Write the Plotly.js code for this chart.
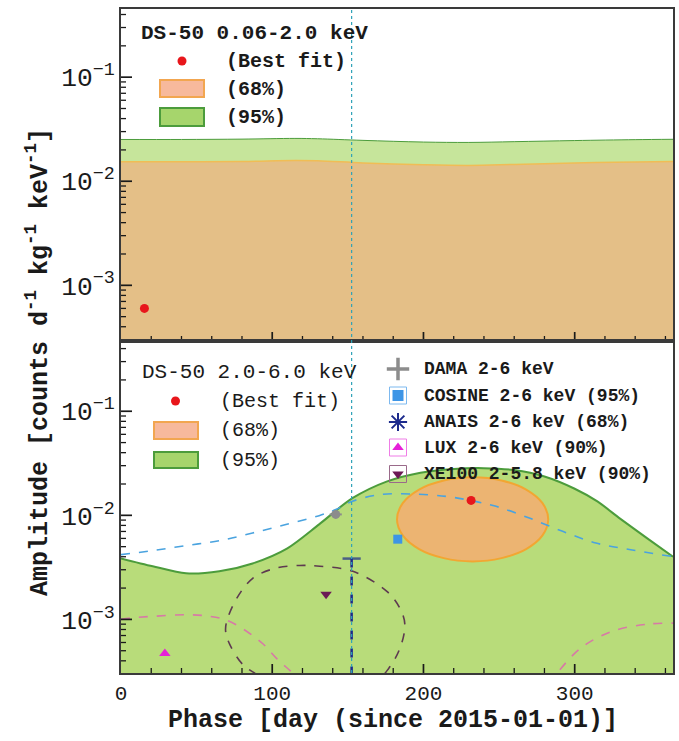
<!DOCTYPE html>
<html><head><meta charset="utf-8">
<script src="https://cdn.plot.ly/plotly-3.0.1.min.js"></script>
<style>html,body{margin:0;padding:0;background:#fff}#chart{width:679px;height:741px}</style>
</head><body><div id="chart"></div><script>
// ---------- DATA ----------
const phaseTop = [0, 40, 80, 115, 130, 160, 200, 230, 260, 300, 340, 365];
const band95Top = [0.0252, 0.0252, 0.0254, 0.0258, 0.0256, 0.0247, 0.0238, 0.0236, 0.0240, 0.0246, 0.0251, 0.0253];
const band68Top = [0.0154, 0.0154, 0.0155, 0.0158, 0.0157, 0.0150, 0.0144, 0.0142, 0.0145, 0.0150, 0.0153, 0.0155];
const bestTopPhase = [15.5];
const bestTopAmp = [0.00060];

const phaseBot = [0, 21, 43, 65, 87, 110, 131, 153, 176, 198, 220, 240, 260, 280, 300, 315, 330, 348, 365];
const band95Bot = [0.00386, 0.00324, 0.00277, 0.00290, 0.00345, 0.00482, 0.00819, 0.0146, 0.0212, 0.0257, 0.0279, 0.0284, 0.0272, 0.0236, 0.0180, 0.0136, 0.0093, 0.0060, 0.0040];
const ell68Phase = [282.5, 278.7, 267.9, 251.6, 232.5, 213.4, 197.1, 186.3, 182.5, 186.3, 197.1, 213.4, 232.5, 251.6, 267.9, 278.7, 282.5];
const ell68Amp = [0.00916, 0.01309, 0.01770, 0.02163, 0.02323, 0.02163, 0.01770, 0.01309, 0.00916, 0.00641, 0.00474, 0.00388, 0.00361, 0.00388, 0.00474, 0.00641, 0.00916];
const bestBotPhase = [231.5];
const bestBotAmp = [0.0139];

const curvePhase = [0, 21, 43, 65, 87, 109, 131, 142, 153, 171, 193, 215, 231, 248, 270, 292, 314, 337, 365];
const curveAmp = [0.00419, 0.00458, 0.00512, 0.00571, 0.00676, 0.00815, 0.00993, 0.01135, 0.01365, 0.0158, 0.0160, 0.0152, 0.0139, 0.0122, 0.00942, 0.00702, 0.00542, 0.00467, 0.00401];

const damaPhase = [142], damaAmp = [0.0102], damaErrUp = [0.0008], damaErrDn = [0.0008], damaErrX = [4];
const cosinePhase = [183], cosineAmp = [0.0059];
const anaisPhase = [152.5, 152.5], anaisAmp = [0.00384, 0.000305];
const luxPhase = [29], luxAmp = [0.00047];
const xe100Phase = [135.6], xe100Amp = [0.00174];

const luxCPhase = [0, 6, 21, 43, 59, 70, 83, 94, 103, 112, 120, null, 283, 288, 304, 325, 348, 365];
const luxCAmp = [0.00100, 0.00103, 0.00107, 0.00111, 0.00107, 0.00098, 0.00077, 0.00058, 0.00042, 0.00032, 0.00025, null, 0.00024, 0.00030, 0.00053, 0.00077, 0.00090, 0.00092];

const xeCPhase = [105, 89.7, 80.5, 71.9, 69.2, 69.9, 76.5, 87.1, 101.7, 118.2, 131.5, 153.3, 175.8, 184.4, 187.7, 184.4, 177, 168, 140, 105];
const xeCAmp = [0.000214, 0.000296, 0.000369, 0.000575, 0.000767, 0.000957, 0.00159, 0.00248, 0.00309, 0.00330, 0.00324, 0.00290, 0.00186, 0.00128, 0.000895, 0.000526, 0.000338, 0.000250, 0.000204, 0.000214];

const damaPhaseLine = 152.5;

const topTitle = 'DS-50 0.06-2.0 keV';
const botTitle = 'DS-50 2.0-6.0 keV';
const dsLabels = ['(Best fit)', '(68%)', '(95%)'];
const expLabels = ['DAMA 2-6 keV', 'COSINE 2-6 keV (95%)', 'ANAIS 2-6 keV (68%)', 'LUX 2-6 keV (90%)', 'XE100 2-5.8 keV (90%)'];
const xTitle = 'Phase [day (since 2015-01-01)]';
const yTitle = 'Amplitude [counts d<sup>-1</sup> kg<sup>-1</sup> keV<sup>-1</sup>]';

// ---------- STYLE ----------
const FONT = 'Liberation Mono, Courier New, monospace';
const FLOOR = 1e-5;
const GREEN_TOP = '#c6e59b', GREEN = '#b8dc7a', GREEN_EDGE = '#4c9c3c';
const TAN = '#e4bf87', ORANGE_FILL = '#ecb472', ORANGE_EDGE = '#f2a632';
const RED = '#e8161b';
const TOPR = [-3.535, -0.345], BOTR = [-3.515, -0.325];

const traces = [];
traces.push({x: [0, 365], y: [FLOOR, FLOOR], xaxis: 'x', yaxis: 'y', mode: 'lines', line: {width: 0}, hoverinfo: 'skip', showlegend: false});
traces.push({x: phaseTop, y: band95Top, xaxis: 'x', yaxis: 'y', mode: 'lines', fill: 'tonexty', fillcolor: GREEN_TOP, line: {color: GREEN_EDGE, width: 1, shape: 'spline'}, showlegend: false});
traces.push({x: [0, 365], y: [FLOOR, FLOOR], xaxis: 'x', yaxis: 'y', mode: 'lines', line: {width: 0}, hoverinfo: 'skip', showlegend: false});
traces.push({x: phaseTop, y: band68Top, xaxis: 'x', yaxis: 'y', mode: 'lines', fill: 'tonexty', fillcolor: TAN, line: {color: '#f0bd55', width: 1.5, shape: 'spline'}, showlegend: false});
traces.push({x: bestTopPhase, y: bestTopAmp, xaxis: 'x', yaxis: 'y', mode: 'markers', marker: {color: RED, size: 9}, showlegend: false});

traces.push({x: [0, 365], y: [FLOOR, FLOOR], xaxis: 'x2', yaxis: 'y2', mode: 'lines', line: {width: 0}, hoverinfo: 'skip', showlegend: false});
traces.push({x: phaseBot, y: band95Bot, xaxis: 'x2', yaxis: 'y2', mode: 'lines', fill: 'tonexty', fillcolor: GREEN, line: {color: GREEN_EDGE, width: 2, shape: 'spline', smoothing: 0.8}, showlegend: false});
traces.push({x: ell68Phase, y: ell68Amp, xaxis: 'x2', yaxis: 'y2', mode: 'lines', fill: 'toself', fillcolor: ORANGE_FILL, line: {color: ORANGE_EDGE, width: 2, shape: 'spline'}, showlegend: false});
traces.push({x: luxCPhase, y: luxCAmp, xaxis: 'x2', yaxis: 'y2', mode: 'lines', connectgaps: false, line: {color: '#d77aa6', width: 1.6, dash: 'dash', shape: 'spline'}, showlegend: false});
traces.push({x: xeCPhase, y: xeCAmp, xaxis: 'x2', yaxis: 'y2', mode: 'lines', line: {color: '#5e3a50', width: 1.6, dash: 'dash', shape: 'spline'}, showlegend: false});
traces.push({x: curvePhase, y: curveAmp, xaxis: 'x2', yaxis: 'y2', mode: 'lines', line: {color: '#4aa3df', width: 1.6, dash: 'dash', shape: 'spline'}, showlegend: false});
traces.push({x: anaisPhase, y: anaisAmp, xaxis: 'x2', yaxis: 'y2', mode: 'lines+markers', line: {color: '#1c2a8c', width: 2.5, dash: 'dash'}, marker: {symbol: ['line-ew-open', 'arrow-down'], size: [13, 9], color: '#1c2a8c', line: {color: '#1c2a8c', width: 2.5}}, cliponaxis: false, showlegend: false});
traces.push({x: damaPhase, y: damaAmp, xaxis: 'x2', yaxis: 'y2', mode: 'markers', marker: {color: '#8c8c8c', size: 9}, error_y: {type: 'data', symmetric: false, array: damaErrUp, arrayminus: damaErrDn, color: '#8c8c8c', thickness: 2, width: 0}, error_x: {type: 'data', array: damaErrX, color: '#8c8c8c', thickness: 2, width: 0}, showlegend: false});
traces.push({x: cosinePhase, y: cosineAmp, xaxis: 'x2', yaxis: 'y2', mode: 'markers', marker: {symbol: 'square', color: '#3d95e6', size: 9}, showlegend: false});
traces.push({x: luxPhase, y: luxAmp, xaxis: 'x2', yaxis: 'y2', mode: 'markers', marker: {symbol: 'triangle-up', color: '#e620d8', size: 10}, showlegend: false});
traces.push({x: xe100Phase, y: xe100Amp, xaxis: 'x2', yaxis: 'y2', mode: 'markers', marker: {symbol: 'triangle-down', color: '#6b1a55', size: 10}, showlegend: false});
traces.push({x: bestBotPhase, y: bestBotAmp, xaxis: 'x2', yaxis: 'y2', mode: 'markers', marker: {color: RED, size: 9}, showlegend: false});

// ---------- tick marks drawn as line traces (axis furniture) ----------
const PX_PER_DAY = 552 / 365;          // plot width / x span
const PX_PER_DEC = 332 / 3.19;         // panel height / decades spanned
const TICKC = '#1a1a1a';
[['x', 'y', TOPR], ['x2', 'y2', BOTR]].forEach(function(p) {
  const xr = p[0], yr = p[1], rng = p[2];
  const xsMaj = [], ysMaj = [], xsMin = [], ysMin = [];
  for (let v = 20; v <= 360; v += 20) {
    const major = (v % 100 === 0);
    const len = major ? 9 : 5;
    const xs = major ? xsMaj : xsMin, ys = major ? ysMaj : ysMin;
    xs.push(v, v, null);
    ys.push(Math.pow(10, rng[0]), Math.pow(10, rng[0] + len / PX_PER_DEC), null);
  }
  for (let e = -4; e <= 0; e++) {
    for (let d = 1; d <= 9; d++) {
      const lv = e + Math.log10(d);
      if (lv < rng[0] || lv > rng[1]) continue;
      const major = (d === 1);
      const len = major ? 11 : 5;
      const xs = major ? xsMaj : xsMin, ys = major ? ysMaj : ysMin;
      xs.push(0, len / PX_PER_DAY, null);
      ys.push(Math.pow(10, lv), Math.pow(10, lv), null);
    }
  }
  traces.push({x: xsMaj, y: ysMaj, xaxis: xr, yaxis: yr, mode: 'lines', connectgaps: false, line: {color: TICKC, width: 1.7}, hoverinfo: 'skip', showlegend: false});
  traces.push({x: xsMin, y: ysMin, xaxis: xr, yaxis: yr, mode: 'lines', connectgaps: false, line: {color: TICKC, width: 1.3}, hoverinfo: 'skip', showlegend: false});
});

// ---------- legend glyphs (pixel overlay) ----------
const G = {xaxis: 'x3', yaxis: 'y3', mode: 'markers', cliponaxis: false, showlegend: false, hoverinfo: 'skip'};
traces.push(Object.assign({x: [182, 175.5], y: [61, 401], marker: {color: RED, size: 9}}, G));
const legX = 398, legY = [369, 395.5, 422, 447.5, 474];
traces.push(Object.assign({x: [legX], y: [legY[0]], marker: {symbol: 'cross-thin-open', size: 16, color: '#8c8c8c', line: {color: '#8c8c8c', width: 3.5}}}, G));
traces.push(Object.assign({x: [legX, legX, legX], y: [legY[1], legY[3], legY[4]], marker: {symbol: 'square-open', size: 17, color: ['#7db9ef', '#ef7de6', '#9a6a8a'], line: {width: 1}}}, G));
traces.push(Object.assign({x: [legX], y: [legY[1]], marker: {symbol: 'square', size: 11, color: '#3d95e6'}}, G));
traces.push(Object.assign({x: [legX], y: [legY[2]], marker: {symbol: 'asterisk-open', size: 15, color: '#1c2a8c', line: {color: '#1c2a8c', width: 2}}}, G));
traces.push(Object.assign({x: [legX], y: [legY[2]], marker: {symbol: 'line-ew-open', size: 13, color: '#1c2a8c', line: {color: '#1c2a8c', width: 2}}}, G));
traces.push(Object.assign({x: [legX], y: [legY[3]], marker: {symbol: 'triangle-up', size: 10, color: '#e620d8'}}, G));
traces.push(Object.assign({x: [legX], y: [legY[4]], marker: {symbol: 'triangle-down', size: 10, color: '#6b1a55'}}, G));

const shapes = [
  {type: 'line', xref: 'x2', yref: 'paper', x0: damaPhaseLine, x1: damaPhaseLine, y0: 0, y1: 1, line: {color: '#2fa2b8', width: 1.2, dash: 'dot'}, layer: 'above'},
  {type: 'rect', xref: 'x3', yref: 'y3', x0: 160, x1: 204, y0: 80, y1: 97, fillcolor: '#f7b99c', line: {color: '#f2a650', width: 2}},
  {type: 'rect', xref: 'x3', yref: 'y3', x0: 160, x1: 204, y0: 108, y1: 126, fillcolor: '#a6d56c', line: {color: '#4c9c3c', width: 2}},
  {type: 'rect', xref: 'x3', yref: 'y3', x0: 154, x1: 198, y0: 422, y1: 439, fillcolor: '#f7b99c', line: {color: '#f2a650', width: 2}},
  {type: 'rect', xref: 'x3', yref: 'y3', x0: 154, x1: 198, y0: 452, y1: 468, fillcolor: '#a6d56c', line: {color: '#4c9c3c', width: 2}}
];

function txt(t, x, y, size, bold, extra) {
  return Object.assign({text: bold ? '<b>' + t + '</b>' : t, x: x, y: y, xref: 'x3', yref: 'y3', xanchor: 'left', yanchor: 'middle', showarrow: false, font: {family: FONT, size: size, color: '#1a1a1a'}}, extra || {});
}
const annotations = [
  txt(topTitle, 139, 33, 21, true),
  txt(dsLabels[0], 224, 61, 20, true),
  txt(dsLabels[1], 224, 89, 20, true),
  txt(dsLabels[2], 224, 117, 20, true),
  txt(botTitle, 140, 372, 21, false),
  txt(dsLabels[0], 218, 401, 20, false),
  txt(dsLabels[1], 218, 430, 20, false),
  txt(dsLabels[2], 218, 460, 20, false),
  txt(xTitle, 0.4928, -0.072, 25, true, {xref: 'paper', yref: 'paper', xanchor: 'center'}),
  txt(yTitle, -0.1503, 0.4684, 25, true, {xref: 'paper', yref: 'paper', xanchor: 'center', textangle: -90})
];
expLabels.forEach((l, i) => annotations.push(txt(l, 422, legY[i], 18, true)));

const xBase = {type: 'linear', range: [0, 365], tickmode: 'linear', dtick: 100, tick0: 0, ticks: '',
  showline: true, mirror: true, linecolor: '#3a3a3a', linewidth: 2, showgrid: false, zeroline: false,
  tickfont: {family: FONT, size: 21, color: '#1a1a1a'}};
const yBase = {type: 'log', autorange: false, tickmode: 'linear', dtick: 1, exponentformat: 'power', showexponent: 'all', ticks: '',
  showline: true, mirror: true, linecolor: '#3a3a3a', linewidth: 2, showgrid: false, zeroline: false,
  tickfont: {family: FONT, size: 21, color: '#1a1a1a'}};

const layout = {
  width: 679, height: 741,
  margin: {l: 121, r: 6, t: 9, b: 68},
  paper_bgcolor: '#fff', plot_bgcolor: 'rgba(0,0,0,0)',
  showlegend: false,
  xaxis: Object.assign({}, xBase, {domain: [0, 1], anchor: 'y', showticklabels: false}),
  yaxis: Object.assign({}, yBase, {domain: [0.5, 1], anchor: 'x', range: TOPR}),
  xaxis2: Object.assign({}, xBase, {domain: [0, 1], anchor: 'y2'}),
  yaxis2: Object.assign({}, yBase, {domain: [0, 0.5], anchor: 'x2', range: BOTR}),
  xaxis3: {type: 'linear', domain: [0, 1], anchor: 'y3', range: [121, 673], visible: false, fixedrange: true},
  yaxis3: {type: 'linear', domain: [0, 1], anchor: 'x3', range: [673, 9], autorange: false, visible: false, fixedrange: true},
  shapes: shapes,
  annotations: annotations
};

Plotly.newPlot('chart', traces, layout, {staticPlot: true, displayModeBar: false});
</script></body></html>
